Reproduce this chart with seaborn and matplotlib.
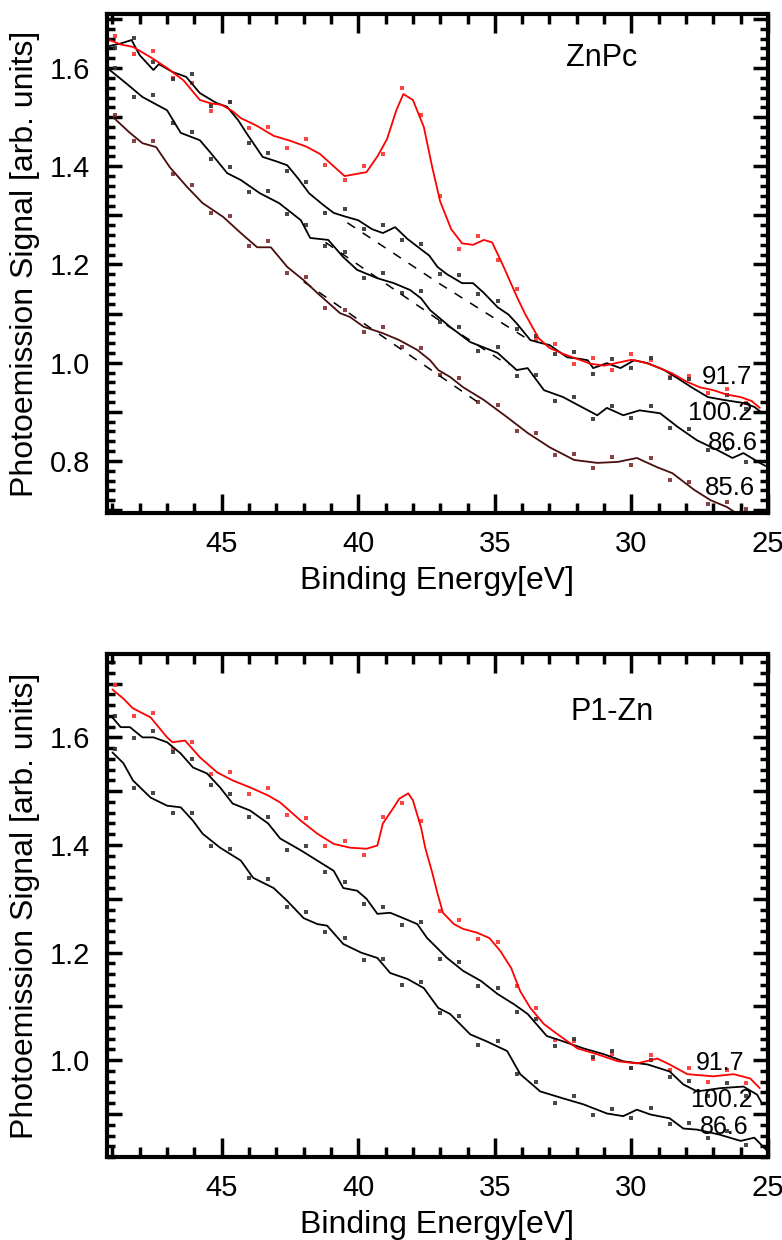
import matplotlib
matplotlib.use("Agg")
import matplotlib.pyplot as plt
import numpy as np
import pandas as pd
import seaborn as sns
from matplotlib.ticker import MultipleLocator, FuncFormatter

# ---------------- data: top panel (ZnPc) ----------------
TOP_RED_E = [49.1, 48.7, 48.25, 47.6, 47.0, 46.4, 45.8, 45.4, 45.0, 44.6, 44.3, 43.7, 43.1, 42.5, 41.9, 41.4,
             40.9, 40.5, 40.1, 39.7, 39.3, 38.95, 38.6, 38.35, 38.0, 37.6, 37.3, 37.0, 36.6, 36.2, 35.8, 35.4,
             35.1, 34.7, 34.2, 33.9, 33.4, 33.0, 32.5, 32.0, 31.5, 31.0, 30.5, 30.0, 29.5, 29.0, 28.5, 28.0,
             27.5, 27.0, 26.5, 26.0, 25.6, 25.3]
TOP_RED_V = [1.657, 1.648, 1.643, 1.622, 1.600, 1.575, 1.535, 1.528, 1.525, 1.512, 1.498, 1.482, 1.462, 1.452,
             1.440, 1.425, 1.400, 1.380, 1.384, 1.388, 1.420, 1.455, 1.515, 1.547, 1.535, 1.480, 1.400, 1.328,
             1.272, 1.243, 1.240, 1.250, 1.245, 1.198, 1.135, 1.100, 1.050, 1.030, 1.018, 1.008, 0.998, 0.994,
             1.000, 1.006, 1.000, 0.990, 0.978, 0.962, 0.950, 0.944, 0.935, 0.930, 0.922, 0.908]

TOP_B1_E = [49.1, 48.7, 48.3, 48.0, 47.5, 47.3, 46.8, 46.3, 45.8, 45.2, 44.8, 44.4, 44.1, 43.5, 43.0, 42.6,
            42.2, 41.8, 41.3, 40.9, 40.5, 40.0, 39.5, 39.1, 38.65, 38.2, 37.8, 37.4, 37.1, 36.75, 36.2, 35.8,
            35.4, 34.9, 34.5, 34.2, 33.7, 33.3, 33.0, 32.35, 31.9, 31.6, 31.4, 30.9, 30.4, 29.9, 29.4, 28.8,
            28.3, 27.8, 27.2, 26.6, 25.9, 25.5, 25.2]
TOP_B1_V = [1.645, 1.650, 1.657, 1.626, 1.596, 1.608, 1.592, 1.582, 1.549, 1.529, 1.521, 1.494, 1.468, 1.419,
            1.410, 1.402, 1.375, 1.345, 1.322, 1.305, 1.298, 1.290, 1.272, 1.264, 1.276, 1.252, 1.235, 1.218,
            1.195, 1.180, 1.162, 1.162, 1.142, 1.113, 1.098, 1.080, 1.046, 1.040, 1.036, 1.011, 1.008, 1.005,
            0.989, 0.999, 0.989, 1.005, 0.999, 0.985, 0.968, 0.950, 0.930, 0.924, 0.918, 0.910, 0.897]

TOP_B2_E = [49.1, 48.5, 47.9, 47.0, 46.5, 45.8, 45.4, 44.8, 44.3, 43.6, 42.9, 42.1, 41.76, 41.1, 40.55, 40.04,
            39.3, 38.7, 38.1, 37.7, 37.37, 36.64, 35.9, 34.9, 34.2, 33.8, 33.2, 32.5, 32.1, 31.25, 30.9, 30.3,
            29.7, 28.95, 28.3, 27.6, 26.85, 26.3, 25.9, 25.3, 25.1]
TOP_B2_V = [1.596, 1.569, 1.541, 1.514, 1.468, 1.453, 1.427, 1.386, 1.372, 1.345, 1.325, 1.290, 1.254, 1.250,
            1.215, 1.189, 1.172, 1.162, 1.148, 1.131, 1.107, 1.073, 1.042, 1.020, 0.985, 0.989, 0.944, 0.930,
            0.918, 0.893, 0.908, 0.893, 0.903, 0.897, 0.869, 0.842, 0.822, 0.806, 0.816, 0.796, 0.790]

TOP_BR_E = [48.98, 48.36, 47.9, 47.4, 46.9, 46.27, 45.7, 44.95, 44.3, 43.7, 43.2, 42.6, 42.0, 41.5, 40.67, 40.3,
            39.8, 39.1, 38.5, 37.84, 37.37, 37.07, 36.64, 36.16, 35.4, 34.55, 33.8, 33.0, 32.1, 31.25, 30.5,
            29.8, 29.05, 28.5, 27.7, 27.1, 26.5, 26.2]
TOP_BR_V = [1.500, 1.468, 1.447, 1.439, 1.398, 1.358, 1.325, 1.297, 1.264, 1.235, 1.235, 1.195, 1.168, 1.142,
            1.101, 1.093, 1.073, 1.060, 1.046, 1.026, 1.005, 0.985, 0.971, 0.950, 0.924, 0.889, 0.857, 0.828,
            0.802, 0.796, 0.798, 0.806, 0.787, 0.775, 0.741, 0.720, 0.706, 0.695]

# dashed reference lines (top panel)
DASH_A_E = [40.4, 37.0, 33.8]
DASH_A_V = [1.285, 1.160, 1.048]
DASH_B_E = [41.2, 37.0, 34.5]
DASH_B_V = [1.245, 1.085, 0.995]
DASH_C_E = [42.0, 38.5, 35.5]
DASH_C_V = [1.165, 1.030, 0.915]

# raw data points (dots)
DOT_E = [48.9, 48.2, 47.5, 46.8, 46.1, 45.4, 44.7, 44.0, 43.3, 42.6, 41.9, 41.2, 40.5, 39.8, 39.1, 38.4, 37.7,
         37.0, 36.3, 35.6, 34.9, 34.2, 33.5, 32.8, 32.1, 31.4, 30.7, 30.0, 29.3, 28.6, 27.9, 27.2, 26.5, 25.8]
TOP_RED_DOTS = [1.665, 1.628, 1.635, 1.580, 1.570, 1.512, 1.530, 1.478, 1.480, 1.438, 1.455, 1.402, 1.372, 1.400,
                1.425, 1.560, 1.505, 1.340, 1.232, 1.258, 1.210, 1.150, 1.048, 1.038, 0.998, 1.010, 0.985, 1.018,
                1.005, 0.970, 0.972, 0.938, 0.946, 0.918]
TOP_B1_DOTS = [1.640, 1.662, 1.612, 1.578, 1.588, 1.522, 1.530, 1.448, 1.428, 1.390, 1.368, 1.305, 1.312, 1.272,
               1.280, 1.250, 1.242, 1.180, 1.178, 1.140, 1.125, 1.068, 1.055, 1.018, 1.022, 0.978, 1.008, 0.990,
               1.010, 0.968, 0.966, 0.918, 0.935, 0.906]
TOP_B2_DOTS = [1.600, 1.542, 1.545, 1.488, 1.470, 1.415, 1.398, 1.348, 1.350, 1.302, 1.280, 1.238, 1.225, 1.172,
               1.182, 1.142, 1.145, 1.083, 1.072, 1.024, 1.032, 0.972, 0.975, 0.922, 0.930, 0.885, 0.912, 0.888,
               0.912, 0.868, 0.866, 0.822, 0.824, 0.798]
TOP_BR_DOTS = [1.505, 1.452, 1.452, 1.385, 1.362, 1.305, 1.298, 1.238, 1.248, 1.182, 1.175, 1.112, 1.108, 1.062,
               1.072, 1.032, 1.030, 0.975, 0.968, 0.920, 0.914, 0.860, 0.856, 0.812, 0.814, 0.786, 0.808, 0.792,
               0.806, 0.762, 0.758, 0.712, 0.716, 0.702]

# ---------------- data: bottom panel (P1-Zn) ----------------
BOT_RED_E = [49.0, 48.6, 48.25, 47.6, 47.0, 46.8, 46.34, 45.8, 45.17, 44.6, 43.96, 43.3, 42.86, 42.1, 41.5, 40.9,
             40.3, 39.7, 39.3, 39.1, 38.7, 38.5, 38.17, 38.0, 37.7, 37.55, 37.3, 37.1, 36.9, 36.5, 36.16, 35.65,
             35.2, 34.8, 34.4, 34.07, 33.7, 33.2, 32.7, 31.98, 31.25, 30.5, 29.8, 29.05, 28.6, 27.95, 27.0,
             26.26, 25.65, 25.3]
BOT_RED_V = [1.689, 1.672, 1.654, 1.637, 1.600, 1.591, 1.594, 1.563, 1.535, 1.520, 1.507, 1.492, 1.479, 1.445,
             1.421, 1.402, 1.395, 1.393, 1.399, 1.440, 1.470, 1.486, 1.496, 1.483, 1.432, 1.395, 1.350, 1.310,
             1.274, 1.253, 1.244, 1.237, 1.227, 1.203, 1.171, 1.128, 1.097, 1.067, 1.048, 1.022, 1.011, 0.998,
             0.994, 1.003, 0.992, 0.974, 0.970, 0.974, 0.966, 0.948]

BOT_B1_E = [49.0, 48.7, 48.36, 47.9, 47.5, 47.0, 46.5, 46.05, 45.54, 45.06, 44.6, 43.96, 43.3, 42.86, 42.1, 41.5,
            40.9, 40.55, 40.04, 39.7, 39.3, 38.83, 38.35, 37.84, 37.48, 37.3, 36.75, 36.16, 35.5, 34.9, 34.3,
            33.8, 33.1, 32.5, 31.76, 31.0, 30.3, 29.4, 28.6, 28.1, 27.6, 26.75, 25.9, 25.4, 25.2]
BOT_B1_V = [1.637, 1.619, 1.619, 1.600, 1.600, 1.591, 1.570, 1.544, 1.533, 1.507, 1.477, 1.464, 1.440, 1.412,
            1.390, 1.371, 1.352, 1.320, 1.315, 1.300, 1.272, 1.274, 1.264, 1.253, 1.227, 1.218, 1.190, 1.166,
            1.147, 1.123, 1.104, 1.086, 1.045, 1.035, 1.022, 1.011, 0.998, 0.992, 0.979, 0.955, 0.942, 0.948,
            0.951, 0.936, 0.918]

BOT_B2_E = [49.0, 48.6, 48.25, 47.6, 47.0, 46.5, 46.05, 45.7, 45.06, 44.3, 43.85, 43.1, 42.6, 42.0, 41.5, 41.14,
            40.55, 39.9, 39.3, 38.83, 38.2, 37.6, 37.07, 36.64, 35.9, 35.3, 34.55, 34.07, 33.34, 32.5, 31.76,
            30.9, 30.3, 29.8, 29.3, 28.6, 28.1, 27.6, 26.8, 26.0, 25.5, 25.0]
BOT_B2_V = [1.572, 1.552, 1.520, 1.488, 1.473, 1.470, 1.445, 1.421, 1.395, 1.371, 1.339, 1.320, 1.296, 1.264,
            1.253, 1.250, 1.216, 1.200, 1.190, 1.162, 1.151, 1.134, 1.097, 1.086, 1.048, 1.035, 1.017, 0.974,
            0.942, 0.929, 0.918, 0.901, 0.896, 0.908, 0.899, 0.892, 0.873, 0.871, 0.862, 0.850, 0.856, 0.830]

BOT_RED_DOTS = [1.698, 1.640, 1.645, 1.578, 1.592, 1.532, 1.535, 1.495, 1.505, 1.455, 1.450, 1.398, 1.408, 1.382,
                1.452, 1.478, 1.445, 1.278, 1.260, 1.225, 1.220, 1.138, 1.097, 1.038, 1.036, 1.002, 1.012, 0.985,
                1.010, 0.982, 0.985, 0.960, 0.982, 0.958]
BOT_B1_DOTS = [1.640, 1.598, 1.612, 1.572, 1.560, 1.512, 1.495, 1.452, 1.452, 1.390, 1.398, 1.350, 1.332, 1.290,
               1.285, 1.252, 1.256, 1.188, 1.182, 1.138, 1.135, 1.090, 1.077, 1.026, 1.040, 1.006, 1.018, 0.985,
               1.001, 0.968, 0.962, 0.934, 0.958, 0.934]
BOT_B2_DOTS = [1.578, 1.505, 1.497, 1.460, 1.460, 1.398, 1.392, 1.338, 1.337, 1.284, 1.276, 1.238, 1.227, 1.186,
               1.188, 1.139, 1.145, 1.088, 1.082, 1.028, 1.036, 0.974, 0.960, 0.920, 0.933, 0.899, 0.910, 0.893,
               0.911, 0.881, 0.883, 0.855, 0.868, 0.842]

TOP_LABELS = ["91.7", "100.2", "86.6", "85.6"]
TOP_LABEL_E = [26.5, 26.75, 26.3, 26.4]
TOP_LABEL_V = [0.971, 0.897, 0.836, 0.745]
BOT_LABELS = ["91.7", "100.2", "86.6"]
BOT_LABEL_E = [26.75, 26.7, 26.6]
BOT_LABEL_V = [0.994, 0.926, 0.876]

RED = "#ff0000"
BLACK = "#000000"
BROWN = "#4a0d0d"

# ---------------- plotting ----------------
sns.set_style("ticks")
plt.rcParams['font.family'] = ['Liberation Sans', 'DejaVu Sans']
plt.rcParams['text.color'] = 'black'
plt.rcParams['axes.labelcolor'] = 'black'
plt.rcParams['xtick.color'] = 'black'
plt.rcParams['ytick.color'] = 'black'

fig = plt.figure(figsize=(7.82, 12.4), dpi=100)
ax1 = fig.add_axes([0.1368, 0.5863, 0.8453, 0.4024])
ax2 = fig.add_axes([0.1368, 0.0669, 0.8453, 0.4057])


def curve(ax, E, V, color, ls="-", lw=1.3):
    df = pd.DataFrame({"E": E, "V": V})
    sns.lineplot(data=df, x="E", y="V", ax=ax, color=color, lw=lw, linestyle=ls,
                 sort=False, estimator=None, legend=False)


def dots(ax, E, V, color):
    df = pd.DataFrame({"E": E, "V": V})
    sns.scatterplot(data=df, x="E", y="V", ax=ax, color=color, s=5, marker="s",
                    linewidth=0, legend=False, alpha=0.9)


# top panel
dots(ax1, DOT_E, TOP_RED_DOTS, "#ff3030")
dots(ax1, DOT_E, TOP_B1_DOTS, "#333333")
dots(ax1, DOT_E, TOP_B2_DOTS, "#333333")
dots(ax1, DOT_E, TOP_BR_DOTS, "#7a3030")
curve(ax1, DASH_A_E, DASH_A_V, BLACK, ls=(0, (6, 6)), lw=1.1)
curve(ax1, DASH_B_E, DASH_B_V, BLACK, ls=(0, (6, 6)), lw=1.1)
curve(ax1, DASH_C_E, DASH_C_V, BLACK, ls=(0, (6, 6)), lw=1.1)
curve(ax1, TOP_BR_E, TOP_BR_V, BROWN)
curve(ax1, TOP_B2_E, TOP_B2_V, BLACK)
curve(ax1, TOP_B1_E, TOP_B1_V, BLACK)
curve(ax1, TOP_RED_E, TOP_RED_V, RED)
for t, e, v in zip(TOP_LABELS, TOP_LABEL_E, TOP_LABEL_V):
    ax1.text(e, v, t, fontsize=18.5, ha="center", va="center")
ax1.text(31.1, 1.62, "ZnPc", fontsize=22, ha="center", va="center")

# bottom panel
dots(ax2, DOT_E, BOT_RED_DOTS, "#ff3030")
dots(ax2, DOT_E, BOT_B1_DOTS, "#333333")
dots(ax2, DOT_E, BOT_B2_DOTS, "#333333")
curve(ax2, BOT_B2_E, BOT_B2_V, BLACK)
curve(ax2, BOT_B1_E, BOT_B1_V, BLACK)
curve(ax2, BOT_RED_E, BOT_RED_V, RED)
for t, e, v in zip(BOT_LABELS, BOT_LABEL_E, BOT_LABEL_V):
    ax2.text(e, v, t, fontsize=18, ha="center", va="center")
ax2.text(30.7, 1.647, "P1-Zn", fontsize=22, ha="center", va="center")

ylims = [(0.694, 1.71), (0.82, 1.755)]
for ax, yl in zip([ax1, ax2], ylims):
    ax.set_xlim(49.2, 25.0)
    ax.set_ylim(*yl)
    ax.xaxis.set_major_locator(MultipleLocator(5))
    ax.xaxis.set_minor_locator(MultipleLocator(1))
    ax.yaxis.set_major_locator(MultipleLocator(0.1))
    ax.yaxis.set_minor_locator(MultipleLocator(0.02))
    ax.yaxis.set_major_formatter(FuncFormatter(
        lambda v, p: f"{v:.1f}" if abs(round(v * 5) - v * 5) < 1e-6 else ""))
    ax.xaxis.set_major_formatter(FuncFormatter(lambda v, p: f"{v:.0f}"))
    ax.tick_params(which="both", direction="in", top=True, right=True, width=2.5,
                   color="black", labelsize=21, labelcolor="black")
    ax.tick_params(axis="x", which="major", length=14, pad=12)
    ax.tick_params(axis="x", which="minor", length=7)
    ax.tick_params(axis="y", which="major", length=11, pad=12)
    ax.tick_params(axis="y", which="minor", length=6)
    for s in ax.spines.values():
        s.set_linewidth(3)
        s.set_color("black")
    ax.set_xlabel("Binding Energy[eV]", fontsize=23, labelpad=6)
    ax.set_ylabel("Photoemission Signal [arb. units]", fontsize=23, labelpad=7)

fig.savefig("out.png", dpi=100)
